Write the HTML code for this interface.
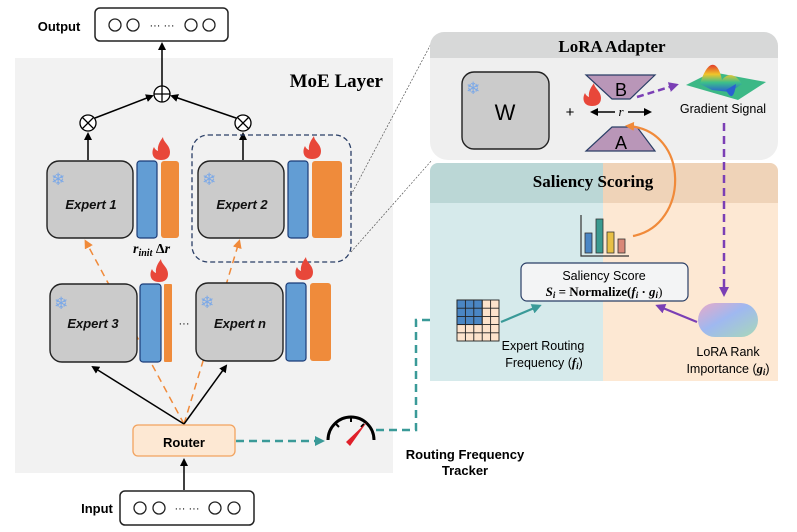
<!DOCTYPE html>
<html><head><meta charset="utf-8"><style>
html,body{margin:0;padding:0;background:#fff;}
svg{display:block;}
.s{font-family:"Liberation Sans",sans-serif;}
.r{font-family:"Liberation Serif",serif;}
</style></head><body>
<svg width="797" height="532" viewBox="0 0 797 532" xmlns="http://www.w3.org/2000/svg">
<defs>
<marker id="ab" markerWidth="8" markerHeight="8" refX="6" refY="4" orient="auto" markerUnits="userSpaceOnUse"><path d="M0,0 L8,4 L0,8 z" fill="#000"/></marker>
<marker id="ao" markerWidth="9" markerHeight="9" refX="6" refY="4.5" orient="auto" markerUnits="userSpaceOnUse"><path d="M0,0 L9,4.5 L0,9 z" fill="#f08a3a"/></marker>
<marker id="at" markerWidth="10" markerHeight="10" refX="7" refY="5" orient="auto" markerUnits="userSpaceOnUse"><path d="M0,0 L10,5 L0,10 z" fill="#3a9a98"/></marker>
<marker id="ap" markerWidth="10" markerHeight="10" refX="7" refY="5" orient="auto" markerUnits="userSpaceOnUse"><path d="M0,0 L10,5 L0,10 z" fill="#7b3fb5"/></marker>
<linearGradient id="pill" x1="0" y1="0" x2="1" y2="1"><stop offset="0" stop-color="#e7a9c8"/><stop offset="0.45" stop-color="#9fb8f0"/><stop offset="1" stop-color="#a8d8b8"/></linearGradient>
<linearGradient id="surf" x1="0" y1="0" x2="0" y2="1"><stop offset="0" stop-color="#e23b2b"/><stop offset="0.35" stop-color="#f0c52a"/><stop offset="0.65" stop-color="#3cc08a"/><stop offset="1" stop-color="#2a60d0"/></linearGradient>
<g id="flame"><path d="M0,11 C-9,11 -10,3 -7,-2 C-6,1 -3,2 -3,2 C-4,-4 0,-9 2,-12 C2,-7 9,-4 9,3 C9,9 5,11 0,11 z" fill="#e8473a"/></g>
</defs>

<rect x="15" y="58" width="378" height="415" fill="#f2f2f2"/>
<text x="383" y="87" class="r" font-size="19" font-weight="bold" text-anchor="end">MoE Layer</text>

<text x="59" y="31" class="s" font-size="13" font-weight="bold" text-anchor="middle">Output</text>
<rect x="95" y="8" width="133" height="33" rx="5" fill="#fff" stroke="#222" stroke-width="1.5"/>
<g fill="none" stroke="#222" stroke-width="1.3"><circle cx="115" cy="25" r="6"/><circle cx="133" cy="25" r="6"/><circle cx="191" cy="25" r="6"/><circle cx="209" cy="25" r="6"/></g>
<text x="162" y="29" class="s" font-size="11" text-anchor="middle">··· ···</text>

<line x1="162" y1="86" x2="162" y2="44" stroke="#000" stroke-width="1.5" marker-end="url(#ab)"/>
<circle cx="162" cy="94" r="8" fill="#fff" stroke="#000" stroke-width="1.3"/>
<path d="M154,94 H170 M162,86 V102" stroke="#000" stroke-width="1.3"/>
<line x1="95" y1="118" x2="152" y2="96" stroke="#000" stroke-width="1.5" marker-end="url(#ab)"/>
<line x1="236" y1="118" x2="172" y2="96" stroke="#000" stroke-width="1.5" marker-end="url(#ab)"/>
<g fill="#fff" stroke="#000" stroke-width="1.3"><circle cx="88" cy="123" r="8"/><circle cx="243" cy="123" r="8"/></g>
<path d="M82,117 L94,129 M94,117 L82,129 M237,117 L249,129 M249,117 L237,129" stroke="#000" stroke-width="1.3"/>
<line x1="88" y1="160" x2="88" y2="134" stroke="#000" stroke-width="1.5" marker-end="url(#ab)"/>
<line x1="243" y1="160" x2="243" y2="134" stroke="#000" stroke-width="1.5" marker-end="url(#ab)"/>

<rect x="192" y="135" width="159" height="127" rx="16" fill="none" stroke="#2a3e66" stroke-width="1.3" stroke-dasharray="5,3"/>
<line x1="351" y1="195" x2="432" y2="42" stroke="#555" stroke-width="0.7" stroke-dasharray="2,1.5"/>
<line x1="351" y1="252" x2="432" y2="160" stroke="#555" stroke-width="0.7" stroke-dasharray="2,1.5"/>

<line x1="184" y1="424" x2="86" y2="242" stroke="#f08a3a" stroke-width="1.5" stroke-dasharray="7,5" marker-end="url(#ao)"/>
<line x1="184" y1="424" x2="239" y2="242" stroke="#f08a3a" stroke-width="1.5" stroke-dasharray="7,5" marker-end="url(#ao)"/>

<g stroke="#222" stroke-width="1.4" fill="#cbcbcb">
<rect x="47" y="161" width="86" height="77" rx="12"/>
<rect x="198" y="161" width="86" height="77" rx="12"/>
<rect x="50" y="284" width="87" height="78" rx="12"/>
<rect x="196" y="283" width="87" height="78" rx="12"/>
</g>
<g stroke="#1b3c78" stroke-width="1.2" fill="#629dd4">
<rect x="137" y="161" width="20" height="77" rx="3"/>
<rect x="288" y="161" width="20" height="77" rx="3"/>
<rect x="140" y="284" width="21" height="78" rx="3"/>
<rect x="286" y="283" width="20" height="78" rx="3"/>
</g>
<g fill="#ef8b3b">
<rect x="161" y="161" width="18" height="77" rx="3"/>
<rect x="312" y="161" width="30" height="77" rx="3"/>
<rect x="164" y="284" width="8" height="78" rx="1"/>
<rect x="310" y="283" width="21" height="78" rx="3"/>
</g>
<use href="#flame" x="161" y="149"/>
<use href="#flame" x="312" y="148"/>
<use href="#flame" x="159" y="271"/>
<use href="#flame" x="304" y="269"/>
<g class="s" font-size="17" fill="#7aa8e8"><text x="51" y="185">❄</text><text x="202" y="185">❄</text><text x="54" y="309">❄</text><text x="200" y="308">❄</text></g>
<g class="s" font-size="13" font-weight="bold" font-style="italic" text-anchor="middle" fill="#111">
<text x="91" y="209">Expert 1</text><text x="242" y="209">Expert 2</text><text x="93" y="328">Expert 3</text><text x="240" y="328">Expert n</text></g>
<text x="184" y="327" class="s" font-size="11" text-anchor="middle">···</text>
<text x="133" y="253" class="r" font-size="14" font-style="italic" font-weight="bold">r<tspan font-size="10" dy="3">init</tspan><tspan dy="-3" font-style="normal"> Δ</tspan>r</text>

<line x1="184" y1="424" x2="93" y2="367" stroke="#000" stroke-width="1.5" marker-end="url(#ab)"/>
<line x1="184" y1="424" x2="226" y2="366" stroke="#000" stroke-width="1.5" marker-end="url(#ab)"/>
<rect x="133" y="425" width="102" height="31" rx="5" fill="#fde8d3" stroke="#f2a35f" stroke-width="1.3"/>
<text x="184" y="447" class="s" font-size="13" font-weight="bold" text-anchor="middle">Router</text>
<line x1="184" y1="490" x2="184" y2="460" stroke="#000" stroke-width="1.5" marker-end="url(#ab)"/>

<text x="97" y="513" class="s" font-size="13" font-weight="bold" text-anchor="middle">Input</text>
<rect x="120" y="491" width="134" height="34" rx="5" fill="#fff" stroke="#222" stroke-width="1.5"/>
<g fill="none" stroke="#222" stroke-width="1.3"><circle cx="140" cy="508" r="6"/><circle cx="159" cy="508" r="6"/><circle cx="215" cy="508" r="6"/><circle cx="234" cy="508" r="6"/></g>
<text x="187" y="512" class="s" font-size="11" text-anchor="middle">··· ···</text>

<line x1="236" y1="441" x2="322" y2="441" stroke="#3a9a98" stroke-width="2.5" stroke-dasharray="8,5" marker-end="url(#at)"/>
<path d="M376,430 H416 V320 H448" fill="none" stroke="#3a9a98" stroke-width="2.5" stroke-dasharray="8,5" marker-end="url(#at)"/>
<path d="M328,440 A22,22 0 0 1 374,440" fill="none" stroke="#000" stroke-width="3"/>
<path d="M336,424 l3,3 M351,418 v4 M364,424 l-3,3" stroke="#000" stroke-width="2"/>
<path d="M346,442 L367,422 L350,446 z" fill="#e0202a"/>
<text x="465" y="459" class="s" font-size="13" font-weight="bold" text-anchor="middle">Routing Frequency</text>
<text x="465" y="475" class="s" font-size="13" font-weight="bold" text-anchor="middle">Tracker</text>

<path d="M430,58 V46 a14,14 0 0 1 14,-14 H764 a14,14 0 0 1 14,14 V58 z" fill="#d7d8d8"/>
<path d="M430,58 H778 V142 a18,18 0 0 1 -18,18 H448 a18,18 0 0 1 -18,-18 z" fill="#efefef"/>
<text x="612" y="52" class="r" font-size="17" font-weight="bold" text-anchor="middle">LoRA Adapter</text>
<rect x="462" y="72" width="87" height="77" rx="12" fill="#cbcbcb" stroke="#222" stroke-width="1.4"/>
<text x="466" y="94" class="s" font-size="17" fill="#7aa8e8">❄</text>
<text x="505" y="120" class="s" font-size="22" text-anchor="middle">W</text>
<text x="570" y="117" class="s" font-size="15" text-anchor="middle">+</text>
<path d="M586,75 H655 L630,99 H612 z" fill="#b996b8" stroke="#2a3e66" stroke-width="1.2"/>
<path d="M612,127 H637 L655,151 H586 z" fill="#b996b8" stroke="#2a3e66" stroke-width="1.2"/>
<text x="621" y="96" class="s" font-size="18" text-anchor="middle">B</text>
<text x="621" y="149" class="s" font-size="18" text-anchor="middle">A</text>
<use href="#flame" x="592" y="95"/>
<line x1="615" y1="112" x2="592" y2="112" stroke="#000" stroke-width="1.5" marker-end="url(#ab)"/>
<line x1="628" y1="112" x2="650" y2="112" stroke="#000" stroke-width="1.5" marker-end="url(#ab)"/>
<text x="621" y="116" class="r" font-size="13" font-style="italic" text-anchor="middle">r</text>
<line x1="637" y1="97" x2="676" y2="85" stroke="#7b3fb5" stroke-width="2.5" stroke-dasharray="7,4" marker-end="url(#ap)"/>
<path d="M686,85 L712,72 L766,82 L738,100 z" fill="#3cb886"/>
<path d="M700,84 C708,58 718,60 722,80 C728,72 736,74 742,84 L730,92 L712,90 z" fill="url(#surf)"/>
<path d="M726,90 C730,98 734,100 736,84" fill="#2a60d0"/>
<text x="723" y="113" class="s" font-size="12.5" text-anchor="middle">Gradient Signal</text>

<path d="M430,203 V171 a8,8 0 0 1 8,-8 H603 V203 z" fill="#bbd7d6"/>
<path d="M603,163 H770 a8,8 0 0 1 8,8 V203 H603 z" fill="#efd3b8"/>
<rect x="430" y="203" width="173" height="178" fill="#d6eaeb"/>
<rect x="603" y="203" width="175" height="178" fill="#fde8d3"/>
<text x="593" y="187" class="r" font-size="17" font-weight="bold" text-anchor="middle">Saliency Scoring</text>
<line x1="724" y1="123" x2="724" y2="294" stroke="#7b3fb5" stroke-width="2.5" stroke-dasharray="8,5" marker-end="url(#ap)"/>
<path d="M633,236 C690,225 690,130 628,126" fill="none" stroke="#f08a3a" stroke-width="2.2" marker-end="url(#ao)"/>
<path d="M581,215 V256 H629" fill="none" stroke="#333" stroke-width="1.2"/>
<rect x="585" y="233" width="7" height="20" fill="#4a86c4" stroke="#333" stroke-width="0.8"/>
<rect x="596" y="219" width="7" height="34" fill="#3a9a90" stroke="#333" stroke-width="0.8"/>
<rect x="607" y="232" width="7" height="21" fill="#e8c046" stroke="#333" stroke-width="0.8"/>
<rect x="618" y="239" width="7" height="14" fill="#d98878" stroke="#333" stroke-width="0.8"/>
<rect x="521" y="263" width="167" height="38" rx="6" fill="#f3f4f5" stroke="#2a3e66" stroke-width="1.2"/>
<text x="604" y="280" class="s" font-size="12.5" text-anchor="middle">Saliency Score</text>
<text x="604" y="296" class="r" font-size="13" font-weight="bold" text-anchor="middle"><tspan font-style="italic">S<tspan font-size="9" dy="2">i</tspan></tspan><tspan dy="-2"> = Normalize(</tspan><tspan font-style="italic">f<tspan font-size="9" dy="2">i</tspan></tspan><tspan dy="-2"> · </tspan><tspan font-style="italic">g<tspan font-size="9" dy="2">i</tspan></tspan><tspan dy="-2" font-weight="normal">)</tspan></text>
<g stroke="#222" stroke-width="0.9">
<rect x="457" y="300" width="42" height="41" fill="#fde3cc"/>
<rect x="457" y="300" width="25.2" height="24.6" fill="#4a86c4"/>
<path d="M465.4,300 V341 M473.8,300 V341 M482.2,300 V341 M490.6,300 V341 M457,308.2 H499 M457,316.4 H499 M457,324.6 H499 M457,332.8 H499" fill="none"/>
</g>
<line x1="501" y1="322" x2="539" y2="306" stroke="#3a9a98" stroke-width="2.2" marker-end="url(#at)"/>
<text x="543" y="350" class="s" font-size="12.5" text-anchor="middle">Expert Routing</text>
<text x="544" y="367" class="s" font-size="12.5" text-anchor="middle">Frequency (<tspan class="r" font-style="italic" font-weight="bold">f<tspan font-size="9" dy="2">i</tspan></tspan><tspan dy="-2">)</tspan></text>
<rect x="698" y="303" width="60" height="34" rx="17" fill="url(#pill)"/>
<line x1="697" y1="322" x2="658" y2="306" stroke="#7b3fb5" stroke-width="2.2" marker-end="url(#ap)"/>
<text x="728" y="356" class="s" font-size="12.5" text-anchor="middle">LoRA Rank</text>
<text x="728" y="373" class="s" font-size="12.5" text-anchor="middle">Importance (<tspan class="r" font-style="italic" font-weight="bold">g<tspan font-size="9" dy="2">i</tspan></tspan><tspan dy="-2">)</tspan></text>
</svg>
</body></html>
